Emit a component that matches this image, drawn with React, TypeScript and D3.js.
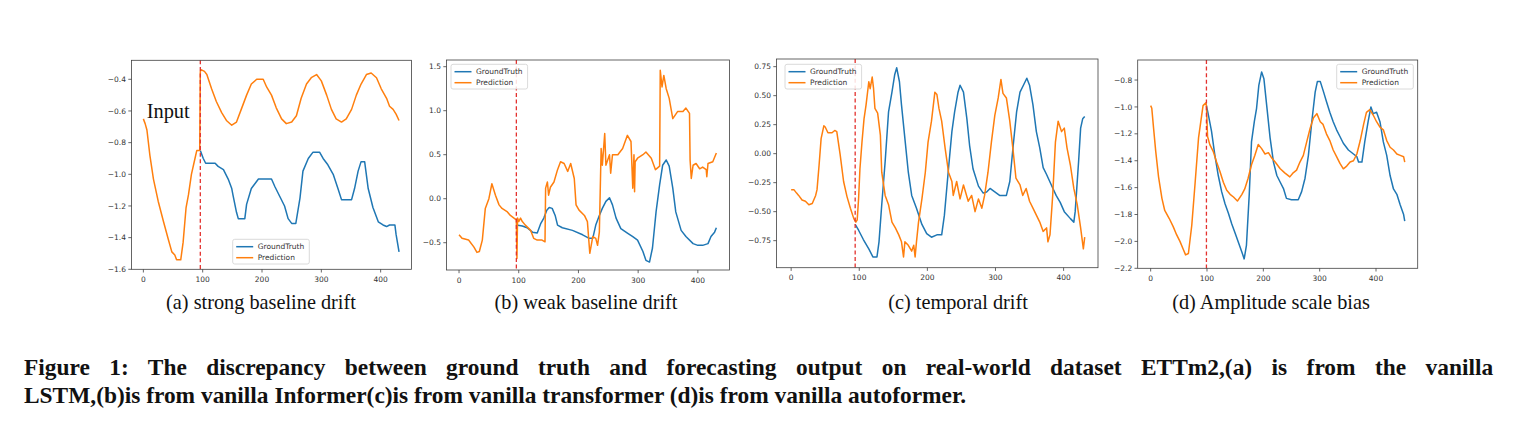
import React from "react";
import * as d3 from "d3";

type P = [number, number];

const xTickValues = [0, 100, 200, 300, 400];
const legendLabels = ["GroundTruth", "Prediction"];
const subCaptions = [
  "(a) strong baseline drift",
  "(b) weak baseline drift",
  "(c) temporal drift",
  "(d) Amplitude scale bias",
];
const captionLines = [
  "Figure 1: The discrepancy between ground truth and forecasting output on real-world dataset ETTm2,(a) is from the vanilla",
  "LSTM,(b)is from vanilla Informer(c)is from vanilla transformer (d)is from vanilla autoformer.",
];

const aYTicks = [-0.4, -0.6, -0.8, -1.0, -1.2, -1.4, -1.6];
const bYTicks = [-0.5, 0.0, 0.5, 1.0, 1.5];
const cYTicks = [-0.75, -0.5, -0.25, 0.0, 0.25, 0.5, 0.75];
const dYTicks = [-0.8, -1.0, -1.2, -1.4, -1.6, -1.8, -2.0, -2.2];

const aPred: P[] = [
  [0, -0.65], [3, -0.68], [6, -0.72], [11, -0.88], [17, -1.03], [25, -1.17], [34, -1.3], [42, -1.41],
  [48, -1.49], [53, -1.51], [56, -1.54], [63, -1.54], [67, -1.43], [72, -1.21], [76, -1.13], [81, -1.0],
  [87, -0.9], [90, -0.85], [95, -0.85], [96, -0.35], [98, -0.34], [103, -0.35], [107, -0.37], [115, -0.46],
  [123, -0.54], [132, -0.61], [140, -0.66], [149, -0.69], [157, -0.67], [165, -0.59], [174, -0.5],
  [182, -0.43], [191, -0.4], [202, -0.4], [208, -0.45], [216, -0.5], [224, -0.58], [233, -0.65],
  [241, -0.68], [250, -0.67], [258, -0.63], [266, -0.52], [275, -0.43], [283, -0.39], [292, -0.37],
  [300, -0.41], [309, -0.5], [317, -0.59], [325, -0.65], [334, -0.67], [342, -0.65], [351, -0.59],
  [359, -0.5], [367, -0.43], [376, -0.37], [384, -0.36], [393, -0.39], [401, -0.46], [410, -0.52],
  [415, -0.57], [421, -0.59], [426, -0.62], [431, -0.66],
];
const aTruth: P[] = [
  [96, -0.85], [101, -0.9], [105, -0.93], [121, -0.93], [126, -0.95], [135, -0.97], [143, -1.03],
  [149, -1.09], [151, -1.13], [157, -1.24], [160, -1.28], [171, -1.28], [174, -1.19], [182, -1.09],
  [188, -1.06], [194, -1.03], [216, -1.03], [222, -1.08], [230, -1.14], [238, -1.2], [244, -1.28],
  [250, -1.31], [257, -1.31], [264, -1.15], [269, -0.98], [278, -0.9], [286, -0.86], [297, -0.86],
  [303, -0.9], [311, -0.94], [320, -1.0], [328, -1.09], [334, -1.16], [351, -1.16], [356, -1.09],
  [362, -0.98], [367, -0.92], [373, -0.92], [379, -1.09], [387, -1.21], [396, -1.3], [404, -1.32],
  [410, -1.33], [415, -1.32], [424, -1.32], [426, -1.38], [431, -1.49],
];

const bPred: P[] = [
  [0, -0.41], [5, -0.45], [16, -0.47], [25, -0.55], [30, -0.61], [34, -0.6], [39, -0.47], [44, -0.11],
  [50, 0.0], [55, 0.17], [61, 0.04], [67, -0.07], [72, -0.11], [81, -0.15], [86, -0.19], [92, -0.22],
  [96, -0.24], [97, -0.68], [98, -0.22], [100, -0.26], [103, -0.22], [106, -0.26], [111, -0.3],
  [120, -0.36], [125, -0.45], [131, -0.47], [139, -0.47], [144, -0.49], [145, 0.12], [148, 0.19],
  [150, 0.04], [153, 0.13], [159, 0.19], [165, 0.33], [170, 0.42], [176, 0.4], [182, 0.31], [187, 0.4],
  [193, 0.23], [196, -0.07], [201, -0.13], [210, -0.19], [215, -0.26], [219, -0.62], [224, -0.43],
  [229, -0.45], [232, -0.53], [235, -0.38], [238, 0.57], [240, 0.38], [244, 0.74], [246, 0.38],
  [252, 0.5], [254, 0.29], [257, 0.5], [266, 0.5], [274, 0.57], [282, 0.72], [288, 0.65], [291, 0.12],
  [293, 0.5], [294, 0.08], [295, 0.42], [299, 0.46], [308, 0.5], [313, 0.53], [322, 0.46], [329, 0.33],
  [336, 0.37], [337, 1.46], [340, 1.27], [343, 1.4], [347, 1.25], [352, 1.14], [358, 0.91], [366, 0.99],
  [375, 0.99], [380, 1.03], [386, 0.97], [387, 0.44], [389, 0.23], [392, 0.38], [397, 0.4], [403, 0.34],
  [408, 0.36], [414, 0.33], [415, 0.25], [417, 0.4], [425, 0.42], [431, 0.52],
];
const bTruth: P[] = [
  [96, -0.3], [106, -0.31], [114, -0.33], [123, -0.38], [131, -0.39], [137, -0.28], [142, -0.22],
  [147, -0.13], [151, -0.1], [156, -0.11], [161, -0.19], [165, -0.3], [173, -0.33], [190, -0.36],
  [207, -0.41], [218, -0.45], [224, -0.45], [229, -0.3], [235, -0.19], [240, -0.11], [246, -0.03],
  [252, 0.01], [257, -0.07], [263, -0.22], [271, -0.34], [282, -0.39], [291, -0.43], [299, -0.47],
  [308, -0.6], [313, -0.7], [319, -0.72], [324, -0.56], [330, -0.15], [336, 0.16], [341, 0.38],
  [347, 0.44], [352, 0.37], [358, 0.12], [363, -0.15], [372, -0.36], [380, -0.43], [392, -0.51],
  [400, -0.53], [408, -0.53], [417, -0.51], [422, -0.43], [428, -0.38], [431, -0.33],
];

const cPred: P[] = [
  [0, -0.31], [4, -0.31], [8, -0.34], [11, -0.36], [16, -0.4], [21, -0.41], [26, -0.44], [31, -0.43],
  [36, -0.36], [38, -0.31], [41, -0.1], [44, 0.13], [48, 0.24], [50, 0.23], [54, 0.18], [60, 0.18],
  [64, 0.2], [67, 0.19], [72, -0.01], [77, -0.24], [82, -0.37], [87, -0.47], [92, -0.56], [95, -0.59],
  [97, -0.57], [99, -0.39], [101, -0.13], [104, 0.1], [107, 0.3], [110, 0.42], [114, 0.62], [116, 0.56],
  [119, 0.66], [121, 0.56], [123, 0.39], [127, 0.35], [131, 0.16], [133, -0.16], [138, -0.36],
  [143, -0.44], [148, -0.59], [153, -0.64], [158, -0.7], [162, -0.76], [165, -0.89], [167, -0.76],
  [172, -0.79], [177, -0.84], [180, -0.79], [182, -0.89], [184, -0.76], [187, -0.59], [192, -0.39],
  [197, -0.16], [201, 0.1], [206, 0.28], [211, 0.53], [214, 0.51], [217, 0.39], [221, 0.28], [226, 0.05],
  [231, -0.16], [236, -0.24], [238, -0.36], [243, -0.24], [248, -0.39], [253, -0.27], [260, -0.41],
  [265, -0.36], [270, -0.5], [275, -0.39], [280, -0.47], [284, -0.36], [289, -0.16], [294, 0.1],
  [299, 0.33], [304, 0.48], [308, 0.64], [311, 0.52], [316, 0.48], [321, 0.28], [326, 0.02], [330, -0.21],
  [336, -0.27], [340, -0.36], [345, -0.3], [350, -0.41], [355, -0.47], [360, -0.53], [365, -0.59],
  [370, -0.67], [375, -0.64], [377, -0.76], [380, -0.7], [384, -0.36], [388, 0.1], [392, 0.28],
  [397, 0.19], [401, 0.22], [405, 0.05], [410, -0.1], [415, -0.3], [420, -0.44], [425, -0.64],
  [429, -0.82], [431, -0.72],
];
const cTruth: P[] = [
  [94, -0.61], [99, -0.66], [106, -0.74], [114, -0.82], [120, -0.89], [126, -0.89], [129, -0.76],
  [133, -0.44], [138, -0.07], [143, 0.36], [148, 0.53], [152, 0.68], [155, 0.74], [159, 0.62],
  [162, 0.42], [167, 0.13], [172, -0.16], [177, -0.36], [184, -0.47], [192, -0.61], [199, -0.69],
  [206, -0.72], [214, -0.7], [221, -0.7], [225, -0.53], [231, -0.13], [236, 0.19], [240, 0.36],
  [245, 0.53], [248, 0.59], [253, 0.53], [258, 0.3], [262, 0.07], [267, -0.13], [275, -0.28],
  [282, -0.34], [287, -0.33], [292, -0.3], [299, -0.33], [306, -0.36], [316, -0.36], [321, -0.24],
  [326, 0.07], [331, 0.36], [336, 0.53], [341, 0.59], [346, 0.65], [350, 0.59], [355, 0.42],
  [360, 0.19], [365, 0.05], [370, -0.12], [375, -0.18], [382, -0.27], [389, -0.36], [395, -0.42],
  [401, -0.5], [410, -0.56], [415, -0.59], [417, -0.5], [422, -0.07], [425, 0.22], [428, 0.3], [431, 0.32],
];

const dPred: P[] = [
  [0, -0.99], [2, -1.01], [5, -1.15], [9, -1.33], [14, -1.52], [20, -1.68], [25, -1.77], [33, -1.83],
  [40, -1.89], [46, -1.95], [52, -2.0], [58, -2.06], [62, -2.1], [67, -2.09], [73, -1.88], [79, -1.56],
  [85, -1.23], [89, -1.11], [93, -0.99], [98, -0.97], [99, -0.99], [101, -1.22], [105, -1.28],
  [111, -1.33], [117, -1.41], [123, -1.48], [129, -1.56], [135, -1.62], [141, -1.65], [147, -1.67],
  [154, -1.7], [162, -1.65], [167, -1.61], [173, -1.53], [179, -1.43], [185, -1.36], [191, -1.28],
  [197, -1.31], [203, -1.35], [209, -1.34], [215, -1.38], [221, -1.41], [230, -1.46], [238, -1.49],
  [247, -1.52], [253, -1.49], [259, -1.47], [265, -1.41], [271, -1.36], [277, -1.26], [283, -1.16],
  [289, -1.08], [295, -1.05], [301, -1.11], [306, -1.13], [312, -1.2], [318, -1.25], [324, -1.32],
  [330, -1.37], [336, -1.42], [342, -1.46], [348, -1.44], [354, -1.41], [360, -1.4], [366, -1.35],
  [372, -1.25], [378, -1.13], [383, -1.04], [389, -1.02], [395, -1.06], [401, -1.11], [407, -1.15],
  [413, -1.17], [419, -1.25], [425, -1.3], [431, -1.32], [437, -1.35], [443, -1.36], [449, -1.37],
  [451, -1.41],
];
const dTruth: P[] = [
  [99, -0.99], [102, -1.05], [108, -1.18], [114, -1.36], [120, -1.51], [126, -1.63], [132, -1.72],
  [138, -1.79], [144, -1.87], [150, -1.94], [156, -2.01], [162, -2.08], [166, -2.13], [170, -2.03],
  [175, -1.65], [179, -1.26], [184, -1.11], [188, -1.01], [192, -0.84], [197, -0.74], [201, -0.79],
  [206, -0.99], [212, -1.23], [218, -1.41], [224, -1.51], [230, -1.56], [236, -1.61], [241, -1.68],
  [250, -1.69], [262, -1.69], [268, -1.63], [274, -1.53], [280, -1.36], [286, -1.11], [292, -0.89],
  [296, -0.81], [301, -0.81], [307, -0.89], [312, -0.96], [318, -1.04], [324, -1.11], [330, -1.17],
  [336, -1.22], [342, -1.27], [351, -1.32], [360, -1.35], [366, -1.37], [369, -1.41], [375, -1.41],
  [380, -1.26], [386, -1.11], [391, -1.0], [395, -1.05], [401, -1.04], [407, -1.11], [413, -1.26],
  [419, -1.36], [425, -1.51], [431, -1.61], [437, -1.65], [443, -1.73], [449, -1.8], [451, -1.85],
];

const BLUE = "#1f77b4";
const ORANGE = "#ff7f0e";
const AXC = "#404040";

type Panel = {
  x0: number; x1: number; y0: number; y1: number;
  xDom: [number, number]; yDom: [number, number];
  yTicks: number[]; yFmt: (v: number) => string;
  split: number; truth: P[]; pred: P[];
  legend: { x: number; y: number };
  center: number;
};

const minus = (s: string) => s.replace("-", "\u2212");
const f1 = (v: number) => minus(d3.format(".1f")(v));
const f2 = (v: number) => minus(d3.format(".2f")(v));

const panels: Panel[] = [
  { x0: 131.5, x1: 411.5, y0: 60.3, y1: 269.3, xDom: [-20, 452], yDom: [-1.6, -0.28], yTicks: aYTicks, yFmt: f1,
    split: 96, truth: aTruth, pred: aPred, legend: { x: 232.7, y: 239.3 }, center: 261 },
  { x0: 446.5, x1: 729.5, y0: 60, y1: 270, xDom: [-21, 453], yDom: [-0.81, 1.576], yTicks: bYTicks, yFmt: f1,
    split: 96, truth: bTruth, pred: bPred, legend: { x: 451, y: 64.3 }, center: 586 },
  { x0: 776.5, x1: 1098, y0: 59, y1: 267.7, xDom: [-21.5, 450.5], yDom: [-0.983, 0.816], yTicks: cYTicks, yFmt: f2,
    split: 94, truth: cTruth, pred: cPred, legend: { x: 785, y: 64.3 }, center: 958 },
  { x0: 1137.7, x1: 1417.7, y0: 60, y1: 268.3, xDom: [-23, 474], yDom: [-2.2, -0.651], yTicks: dYTicks, yFmt: f1,
    split: 99, truth: dTruth, pred: dPred, legend: { x: 1336.7, y: 64.3 }, center: 1271 },
];

const tickFont = "DejaVu Sans, sans-serif";
const serif = "'Liberation Serif', 'Times New Roman', serif";

function PanelView({ p, idx }: { p: Panel; idx: number }) {
  const x = d3.scaleLinear().domain(p.xDom).range([p.x0, p.x1]);
  const y = d3.scaleLinear().domain(p.yDom).range([p.y1, p.y0]);
  const line = d3.line<P>().x((d) => x(d[0])).y((d) => y(d[1]));
  const lw = 76.6, lh = 24.7;
  return (
    <g>
      <path d={line(p.truth) || ""} fill="none" stroke={BLUE} strokeWidth={1.5} strokeLinejoin="round" />
      <path d={line(p.pred) || ""} fill="none" stroke={ORANGE} strokeWidth={1.5} strokeLinejoin="round" />
      <line x1={x(p.split)} x2={x(p.split)} y1={p.y0} y2={p.y1} stroke="#e3322f" strokeWidth={1.3} strokeDasharray="4,2.6" />
      <rect x={p.x0} y={p.y0} width={p.x1 - p.x0} height={p.y1 - p.y0} fill="none" stroke={AXC} strokeWidth={0.8} />
      {p.yTicks.map((t) => (
        <g key={"y" + t}>
          <line x1={p.x0 - 3.2} x2={p.x0} y1={y(t)} y2={y(t)} stroke={AXC} strokeWidth={0.8} />
          <text x={p.x0 - 5.5} y={y(t)} dy="0.35em" textAnchor="end" fontSize={7.5} fontFamily={tickFont} fill="#333">
            {p.yFmt(t)}
          </text>
        </g>
      ))}
      {xTickValues.map((t) => (
        <g key={"x" + t}>
          <line x1={x(t)} x2={x(t)} y1={p.y1} y2={p.y1 + 3.2} stroke={AXC} strokeWidth={0.8} />
          <text x={x(t)} y={p.y1 + 12.5} textAnchor="middle" fontSize={7.5} fontFamily={tickFont} fill="#333">
            {t}
          </text>
        </g>
      ))}
      <g transform={`translate(${p.legend.x},${p.legend.y})`}>
        <rect x={0} y={0} width={lw} height={lh} rx={2} fill="white" fillOpacity={0.85} stroke="#d0d0d0" strokeWidth={0.8} />
        {legendLabels.map((l, i) => (
          <g key={l} transform={`translate(0,${7.4 + i * 11})`}>
            <line x1={3.5} x2={20.5} y1={0} y2={0} stroke={i === 0 ? BLUE : ORANGE} strokeWidth={1.5} />
            <text x={25} y={0} dy="0.35em" fontSize={7.5} fontFamily={tickFont} fill="#333">{l}</text>
          </g>
        ))}
      </g>
      <text x={p.center} y={309} textAnchor="middle" fontSize={20.3} fontFamily={serif} fill="#111">
        {subCaptions[idx]}
      </text>
    </g>
  );
}

export default function App() {
  return (
    <svg width={1521} height={431} style={{ position: "absolute", left: 0, top: 0, background: "white" }}>
      <rect width={1521} height={431} fill="white" />
      {panels.map((p, i) => <PanelView key={i} p={p} idx={i} />)}
      <text x={146.7} y={118.3} fontSize={20.4} fontFamily={serif} fill="#111">Input</text>
      <text x={24} y={375} fontSize={23.4} fontWeight="bold" fontFamily={serif} fill="#111" wordSpacing={13.6}>{captionLines[0]}</text>
      <text x={24} y={403} fontSize={23.4} fontWeight="bold" fontFamily={serif} fill="#111">{captionLines[1]}</text>
    </svg>
  );
}
